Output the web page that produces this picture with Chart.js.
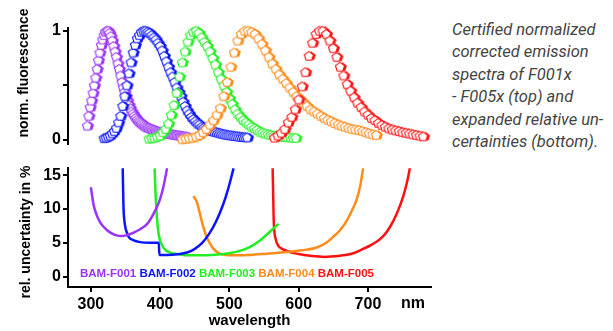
<!DOCTYPE html>
<html><head><meta charset="utf-8">
<script src="https://cdn.jsdelivr.net/npm/chart.js@4.4.1/dist/chart.umd.min.js"></script>
<style>
html,body{margin:0;padding:0;background:#fff;}
body{width:613px;height:331px;position:relative;overflow:hidden;font-family:"Liberation Sans",Arial,sans-serif;}
canvas{position:absolute;left:0;}
.yt{position:absolute;width:200px;text-align:center;font-weight:bold;font-size:14px;line-height:16px;transform:rotate(-90deg);white-space:nowrap;color:#000;}
#nm{position:absolute;left:393px;top:294px;width:40px;text-align:center;font-weight:bold;font-size:16px;line-height:18px;color:#000;}
#legend{position:absolute;left:80px;top:266px;font-weight:bold;font-size:11.5px;line-height:14px;white-space:nowrap;}
#caption{position:absolute;left:452px;top:19px;font-family:Roboto,"Liberation Sans",sans-serif;font-style:italic;font-size:16.5px;line-height:22.4px;color:#444;white-space:nowrap;}
</style></head>
<body>
<canvas id="top" width="440" height="156" style="top:0"></canvas>
<canvas id="bot" width="440" height="175" style="top:156px"></canvas>
<div class="yt" style="left:-77px;top:65px">norm. fluorescence</div>
<div class="yt" style="left:-75px;top:224px">rel. uncertainty in %</div>
<div id="nm">nm</div>
<div id="legend"></div>
<div id="caption">Certified normalized<br>corrected emission<br>spectra of F001x<br>- F005x (top) and<br>expanded relative un-<br>certainties (bottom).</div>
<script>
const seriesNames = ['BAM-F001','BAM-F002','BAM-F003','BAM-F004','BAM-F005'];
const seriesColors = ['#9933ff','#0a14ff','#22ee22','#ff8c1a','#ff1010'];

const xTicks = [300,400,500,600,700];
const xTickLabels = ['300','400','500','600','700'];
const topTicks = [0,0.5,1];
const topTickLabels = ['0','','1'];
const botTicks = [0,5,10,15];
const botTickLabels = ['0','5','10','15'];

// normalized emission spectra (top)
const f001Nm = [296,298,300,302,304,306,308,310,312,314,316,318,320,322,324,326,328,330,332,334,336,338,340,342,344,346,348,350,352,354,356,358,360,362,364,366,368,370,372,374,376,378,380,382,384,386,388,390,392,394,396,398,400,402,404,406,408,410,412,414,416,418,420,422,424,426,428,430,432,434,436,438,440];
const f001Val = [0.13,0.22,0.30,0.36,0.43,0.50,0.57,0.65,0.73,0.80,0.87,0.92,0.96,0.99,1.00,1.00,0.98,0.95,0.91,0.86,0.81,0.76,0.70,0.65,0.59,0.53,0.48,0.44,0.40,0.36,0.32,0.29,0.26,0.24,0.22,0.20,0.185,0.17,0.16,0.15,0.14,0.13,0.12,0.115,0.11,0.105,0.10,0.095,0.09,0.085,0.08,0.077,0.074,0.071,0.068,0.065,0.062,0.06,0.058,0.055,0.053,0.05,0.048,0.046,0.044,0.042,0.04,0.038,0.036,0.034,0.032,0.03,0.028];

const f002Nm = [320,323,326,329,332,335,338,341,344,347,350,353,356,359,362,365,368,371,374,377,380,383,386,389,392,395,398,401,404,407,410,413,416,419,422,425,428,431,434,437,440,443,446,449,452,455,458,461,464,467,470,473,476,479,482,485,488,491,494,497,500,503,506,509,512,515,518,521,524,527];
const f002Val = [0.015,0.02,0.03,0.04,0.06,0.08,0.11,0.16,0.22,0.31,0.40,0.50,0.61,0.71,0.80,0.87,0.93,0.96,0.99,1.00,1.00,0.99,0.98,0.96,0.94,0.92,0.89,0.86,0.82,0.77,0.72,0.67,0.62,0.58,0.53,0.48,0.44,0.40,0.35,0.31,0.27,0.24,0.21,0.19,0.17,0.15,0.14,0.12,0.11,0.10,0.09,0.085,0.08,0.075,0.07,0.065,0.06,0.055,0.05,0.047,0.044,0.041,0.038,0.036,0.033,0.03,0.028,0.026,0.024,0.022];

const f003Nm = [385,389,393,397,401,405,409,413,417,421,425,429,433,437,441,445,449,453,457,461,465,469,473,477,481,485,489,493,497,501,505,509,513,517,521,525,529,533,537,541,545,549,553,557,561,565,569,573,577,581,585,589,593,597];
const f003Val = [0.01,0.015,0.02,0.03,0.04,0.07,0.10,0.15,0.23,0.32,0.43,0.58,0.71,0.81,0.90,0.96,0.99,1.00,0.98,0.94,0.90,0.86,0.81,0.75,0.69,0.62,0.56,0.50,0.44,0.38,0.33,0.28,0.24,0.21,0.18,0.16,0.14,0.12,0.105,0.09,0.075,0.065,0.057,0.05,0.045,0.04,0.036,0.032,0.029,0.026,0.024,0.022,0.02,0.018];

const f004Nm = [433,438,443,448,453,458,463,468,473,478,483,488,493,498,503,508,513,518,523,528,533,538,543,548,553,558,563,568,573,578,583,588,593,598,603,608,613,618,623,628,633,638,643,648,653,658,663,668,673,678,683,688,693,698,703,708,713];
const f004Val = [0.005,0.01,0.015,0.02,0.03,0.045,0.07,0.10,0.14,0.18,0.23,0.29,0.40,0.53,0.67,0.80,0.91,0.97,1.00,1.00,0.99,0.97,0.93,0.88,0.82,0.76,0.70,0.65,0.60,0.56,0.52,0.48,0.44,0.40,0.37,0.34,0.31,0.28,0.26,0.24,0.22,0.20,0.185,0.17,0.155,0.14,0.13,0.12,0.11,0.10,0.095,0.09,0.08,0.07,0.06,0.05,0.045];

const f005Nm = [566,571,576,581,586,591,596,601,606,611,616,621,626,631,636,641,646,651,656,661,666,671,676,681,686,691,696,701,706,711,716,721,726,731,736,741,746,751,756,761,766,771,776,781];
const f005Val = [0.02,0.04,0.065,0.10,0.16,0.21,0.28,0.37,0.49,0.62,0.77,0.89,0.97,1.00,1.00,0.97,0.91,0.84,0.76,0.67,0.59,0.51,0.45,0.39,0.34,0.30,0.26,0.23,0.20,0.18,0.155,0.135,0.12,0.105,0.095,0.087,0.08,0.07,0.065,0.058,0.05,0.045,0.038,0.032];

// expanded relative uncertainties in % (bottom)
const u001Nm = [300,304,308,313,318,323,330,337,344,351,357,364,371,377,383,390,395,400,405,410];
const u001Val = [13.2,10.6,9.2,8.1,7.4,6.9,6.4,6.1,6.0,6.1,6.3,6.6,7.0,7.4,8.0,9.2,10.2,11.5,13.4,16.0];
const u002Nm = [346,347,349,352,355,361,371,385,398,399,410,425,440,450,460,470,480,490,498,506];
const u002Val = [16.0,10.6,7.8,6.5,5.8,5.4,5.1,5.0,5.0,3.2,3.2,3.3,3.6,4.1,4.9,6.2,8.0,10.4,12.9,16.0];
const u003Nm = [392,393.5,395.5,398,402,408,416,425,440,460,480,500,515,530,545,558,571];
const u003Val = [16.0,12.0,8.5,6.2,4.8,3.9,3.5,3.35,3.15,3.15,3.25,3.45,3.8,4.4,5.4,6.6,7.8];
const u004Nm = [448,453,457,460,464,467,472,477,486,495,506,530,554,578,602,626,640,650,660,669,677,684,689,693];
const u004Val = [11.9,11.0,9.5,8.2,6.8,5.9,4.9,4.1,3.4,3.2,3.15,3.2,3.4,3.6,3.85,4.3,5.0,5.9,6.9,8.2,9.8,11.5,13.5,16.0];
const u005Nm = [562.4,563.2,564,567,571,576,583,590,600,611,625,638,650,664,680,693,705,717,727,736.5,744,751,756,760.5];
const u005Val = [16.0,12.0,8.2,5.5,4.5,4.1,3.8,3.55,3.35,3.15,3.0,2.9,3.0,3.15,3.5,4.1,4.7,5.5,6.6,8.2,9.9,11.9,13.8,16.0];

const spectra = [[f001Nm,f001Val],[f002Nm,f002Val],[f003Nm,f003Val],[f004Nm,f004Val],[f005Nm,f005Val]];
const uncert = [[u001Nm,u001Val],[u002Nm,u002Val],[u003Nm,u003Val],[u004Nm,u004Val],[u005Nm,u005Val]];

const FONT = '"Liberation Sans", Arial, sans-serif';
const toPts = (nm, v) => nm.map((x, j) => ({x: x, y: v[j]})).filter(p => p.y !== undefined);

function pentagon(color) {
  const c = document.createElement('canvas');
  c.width = 14; c.height = 12;
  const g = c.getContext('2d');
  const path = (cx, cy, r) => {
    g.beginPath();
    for (let k = 0; k < 5; k++) {
      const a = -Math.PI / 2 + k * 2 * Math.PI / 5;
      const x = cx + r * Math.cos(a), y = cy + r * Math.sin(a);
      if (k) g.lineTo(x, y); else g.moveTo(x, y);
    }
    g.closePath();
  };
  path(8.4, 6.4, 4.8); g.fillStyle = color; g.fill();
  path(6.0, 6.4, 4.8); g.fillStyle = '#fff'; g.fill();
  g.lineWidth = 1.1; g.strokeStyle = color; g.stroke();
  return c;
}

const axisFont = {family: FONT, size: 16, weight: 'bold'};
const gridOpts = {drawOnChartArea: false, drawTicks: true, tickLength: 5, color: '#000', lineWidth: 2};
const borderOpts = {display: true, color: '#000', width: 2};

new Chart(document.getElementById('top'), {
  type: 'scatter',
  data: {
    datasets: spectra.map((s, i) => ({
      label: seriesNames[i],
      data: toPts(s[0], s[1]),
      pointStyle: pentagon(seriesColors[i]),
      pointRadius: 4,
      showLine: false,
      clip: false,
      order: 5 - i
    }))
  },
  options: {
    responsive: false, animation: false, devicePixelRatio: 1, events: [],
    layout: {autoPadding: false, padding: {left: 0, right: 9, top: 28, bottom: 2}},
    plugins: {legend: {display: false}, tooltip: {enabled: false}},
    scales: {
      x: {type: 'linear', display: false, min: 267, max: 791},
      y: {
        min: -0.042, max: 1.025,
        afterBuildTicks: s => { s.ticks = topTicks.map(v => ({value: v})); },
        afterFit: s => { s.width = 68; },
        ticks: {color: '#000', font: axisFont, padding: 2, callback: (v, i) => topTickLabels[i]},
        grid: gridOpts, border: borderOpts
      }
    }
  }
});

new Chart(document.getElementById('bot'), {
  type: 'scatter',
  data: {
    datasets: uncert.map((s, i) => ({
      label: seriesNames[i],
      data: toPts(s[0], s[1]),
      borderColor: seriesColors[i],
      backgroundColor: seriesColors[i],
      borderWidth: 2.5,
      pointRadius: 0,
      showLine: true,
      cubicInterpolationMode: 'monotone'
    }))
  },
  options: {
    responsive: false, animation: false, devicePixelRatio: 1, events: [],
    layout: {autoPadding: false, padding: {left: 0, right: 9, top: 4, bottom: 0}},
    plugins: {legend: {display: false}, tooltip: {enabled: false}},
    scales: {
      x: {
        type: 'linear', min: 267, max: 791,
        afterBuildTicks: s => { s.ticks = xTicks.map(v => ({value: v})); },
        afterFit: s => { s.height = 44; },
        ticks: {color: '#000', font: axisFont, padding: 3, maxRotation: 0, autoSkip: false, callback: (v, i) => xTickLabels[i]},
        grid: gridOpts, border: borderOpts,
        title: {display: true, text: 'wavelength', color: '#000', font: {family: FONT, size: 15, weight: 'bold'}, padding: {top: 0, bottom: 1}}
      },
      y: {
        min: -1.53, max: 16.11,
        afterBuildTicks: s => { s.ticks = botTicks.map(v => ({value: v})); },
        afterFit: s => { s.width = 68; },
        ticks: {color: '#000', font: axisFont, padding: 2, callback: (v, i) => botTickLabels[i]},
        grid: gridOpts, border: borderOpts
      }
    }
  }
});

const lg = document.getElementById('legend');
seriesNames.forEach((n, i) => {
  const sp = document.createElement('span');
  sp.textContent = n;
  sp.style.color = seriesColors[i];
  lg.appendChild(sp);
  if (i < seriesNames.length - 1) lg.appendChild(document.createTextNode(' '));
});
</script>
</body></html>
